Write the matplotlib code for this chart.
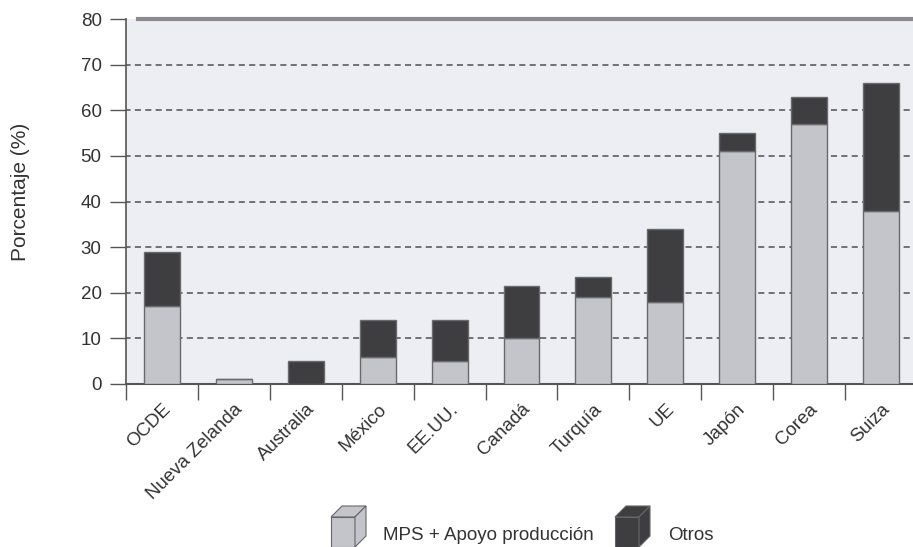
import matplotlib
matplotlib.use("Agg")
import matplotlib.pyplot as plt
from matplotlib.patches import Polygon
import numpy as np

# datos
paises = ["OCDE", "Nueva Zelanda", "Australia", "México", "EE.UU.", "Canadá",
          "Turquía", "UE", "Japón", "Corea", "Suiza"]
mps_apoyo = [17, 1, 0, 6, 5, 10, 19, 18, 51, 57, 38]
otros = [12, 0, 5, 8, 9, 11.5, 4.5, 16, 4, 6, 28]
y_ticks = [0, 10, 20, 30, 40, 50, 60, 70, 80]
leyenda = ["MPS + Apoyo producción", "Otros"]

claro = "#c3c5ca"
oscuro = "#3e3e41"
borde = "#6a6a6e"
fondo = "#eceef3"

plt.rcParams["font.family"] = ["Liberation Sans", "DejaVu Sans"]

fig = plt.figure(figsize=(9.13, 5.47), dpi=100)
W, H = 913, 547
ax = fig.add_axes([126 / W, (H - 384) / H, (917 - 126) / W, (384 - 19) / H])
ax.set_facecolor(fondo)

x = np.arange(len(paises))
ax.bar(x, mps_apoyo, width=0.5, color=claro, edgecolor=borde, linewidth=1, zorder=3)
ax.bar(x, otros, width=0.5, bottom=mps_apoyo, color=oscuro, edgecolor=borde,
       linewidth=1, zorder=3)

ax.set_xlim(-0.5, len(paises) - 0.5)
ax.set_ylim(0, 80)
ax.set_yticks(y_ticks)
ax.tick_params(axis="y", length=11.5, width=1, color="#555555", labelsize=13.5,
               labelcolor="#333333", pad=6)

# ticks en los limites de categoria, etiquetas centradas
ax.set_xticks(np.arange(-0.5, len(paises), 1))
ax.set_xticklabels([])
ax.set_xticks(x, minor=True)
ax.set_xticklabels(paises, minor=True, rotation=45, ha="right",
                   rotation_mode="anchor", fontsize=13.5, color="#333333")
ax.tick_params(axis="x", which="major", length=11.5, width=1, color="#555555")
ax.tick_params(axis="x", which="minor", length=0, pad=12)

for yv in y_ticks[1:-1]:
    ax.axhline(yv, color="#505050", linestyle=(1, (4, 2.8)), linewidth=1.1, zorder=1)

for s in ["right", "top"]:
    ax.spines[s].set_visible(False)
ax.spines["left"].set_color("#555555")
ax.spines["bottom"].set_color("#555555")
ax.spines["left"].set_linewidth(1.2)
ax.spines["bottom"].set_linewidth(1.5)
# borde superior gris
ax.plot([12 / 791, 1], [1, 1], transform=ax.transAxes, color="#8a8a8e",
        linewidth=3, clip_on=False, zorder=4)

fig.text(20 / W, 1 - 192 / H, "Porcentaje (%)", rotation=90, ha="center",
         va="center", fontsize=15, color="#333333")

# leyenda con cubos
lax = fig.add_axes([0, 0, 1, 1])
lax.set_xlim(0, W)
lax.set_ylim(H, 0)
lax.axis("off")


def cubo(x0, y0, s, h, d, color):
    frente = [(x0, y0), (x0 + s, y0), (x0 + s, y0 + h), (x0, y0 + h)]
    arriba = [(x0, y0), (x0 + d, y0 - d), (x0 + s + d, y0 - d), (x0 + s, y0)]
    lado = [(x0 + s, y0), (x0 + s + d, y0 - d), (x0 + s + d, y0 + h - d), (x0 + s, y0 + h)]
    ec = "#666666"
    for pts in (frente, arriba, lado):
        lax.add_patch(Polygon(pts, closed=True, fc=color, ec=ec, lw=0.8))


cubo(331, 517, 24, 30, 11, claro)
lax.text(383, 535, leyenda[0], fontsize=13.5, va="center", color="#333333")
cubo(615, 517, 24, 30, 11, oscuro)
lax.text(668, 535, leyenda[1], fontsize=13.5, va="center", color="#333333")

fig.savefig("out.png", dpi=100, facecolor="white")
